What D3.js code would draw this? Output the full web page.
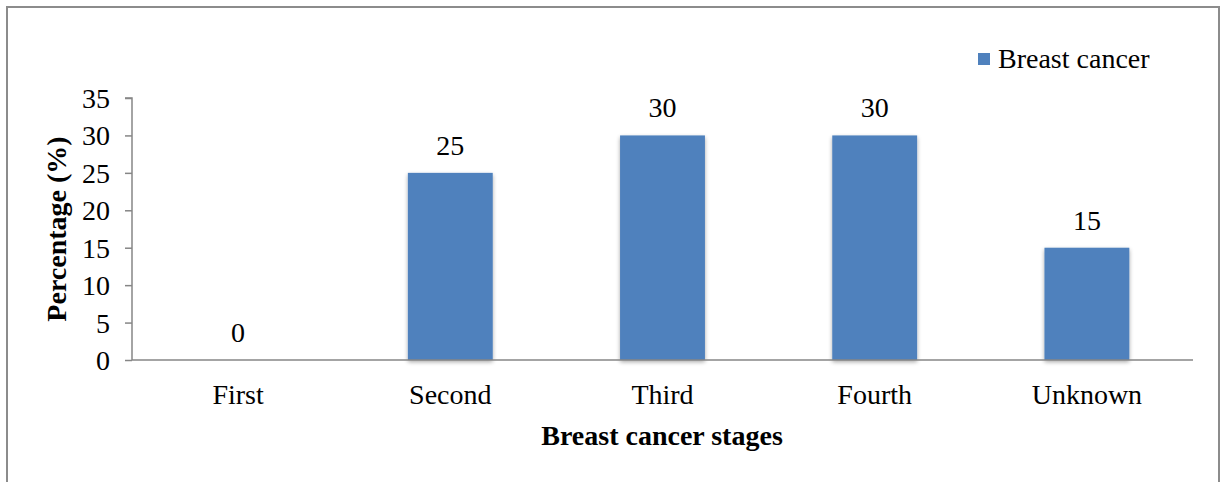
<!DOCTYPE html>
<html><head><meta charset="utf-8">
<script src="https://cdn.jsdelivr.net/npm/d3@7"></script>
<style>body{margin:0;background:#fff}svg{display:block}text{font-family:"Liberation Serif","Times New Roman",serif;fill:#000}</style>
</head><body>
<svg id="c" width="1224" height="482"></svg>
<script>
const categories = ["First","Second","Third","Fourth","Unknown"];
const values = [0,25,30,30,15];
const yTicks = [0,5,10,15,20,25,30,35];
const seriesName = "Breast cancer";
const xTitle = "Breast cancer stages";
const yTitle = "Percentage (%)";

const svg = d3.select("#c");
const fs = 28;
// outer frame
svg.append("path").attr("d","M7,490 V7 H1219 V490").attr("fill","none").attr("stroke","#8c8c8c").attr("stroke-width",2);

const x = d3.scaleBand().domain(categories).range([132,1193]).paddingInner(0.6).paddingOuter(0.3);
const y = d3.scaleLinear().domain([0,35]).range([360,98]);

const defs = svg.append("defs");
const f = defs.append("filter").attr("id","sh").attr("x","-20%").attr("y","-10%").attr("width","140%").attr("height","130%");
f.append("feGaussianBlur").attr("in","SourceAlpha").attr("stdDeviation",2);
f.append("feOffset").attr("dx",0).attr("dy",1.5).attr("result","b");
f.append("feComponentTransfer").append("feFuncA").attr("type","linear").attr("slope",0.35);
const m = f.append("feMerge"); m.append("feMergeNode"); m.append("feMergeNode").attr("in","SourceGraphic");

svg.append("g").selectAll("rect").data(values).join("rect")
  .attr("x",(d,i)=>x(categories[i])).attr("width",x.bandwidth())
  .attr("y",d=>y(d)).attr("height",d=>y(0)-y(d))
  .attr("fill","#4f81bd").attr("filter","url(#sh)");

// y axis
const ya = svg.append("g").attr("transform","translate(132,0)")
  .call(d3.axisLeft(y).tickValues(yTicks).tickSize(7).tickPadding(15));
ya.attr("font-family",null);
ya.select(".domain").attr("stroke","#868686").attr("stroke-width",1.5).attr("d","M-7,98H0V360");
ya.selectAll(".tick line").attr("stroke","#868686").attr("stroke-width",1.5);
ya.selectAll(".tick text").attr("font-size",fs).attr("fill","#000").attr("dy","0.34em");

// x axis
const xa = svg.append("g").attr("transform","translate(0,360)")
  .call(d3.axisBottom(x).tickSize(0).tickPadding(24));
xa.attr("font-family",null);
xa.select(".domain").attr("stroke","#868686").attr("stroke-width",1.5).attr("d","M132,0H1193");
xa.selectAll(".tick text").attr("font-size",fs).attr("fill","#000").attr("dy","0.71em");

// value labels
svg.append("g").selectAll("text").data(values).join("text")
  .attr("x",(d,i)=>x(categories[i])+x.bandwidth()/2).attr("y",d=>y(d)-18)
  .attr("text-anchor","middle").attr("font-size",fs).text(d=>d);

// titles
svg.append("text").attr("x",662).attr("y",445).attr("text-anchor","middle")
  .attr("font-size",fs).attr("font-weight","bold").text(xTitle);
svg.append("text").attr("transform","translate(66,229) rotate(-90)").attr("text-anchor","middle")
  .attr("font-size",fs).attr("font-weight","bold").text(yTitle);

// legend
svg.append("rect").attr("x",978).attr("y",53).attr("width",12).attr("height",12).attr("fill","#4f81bd");
svg.append("text").attr("x",998).attr("y",68).attr("font-size",fs).text(seriesName);
</script>
</body></html>
